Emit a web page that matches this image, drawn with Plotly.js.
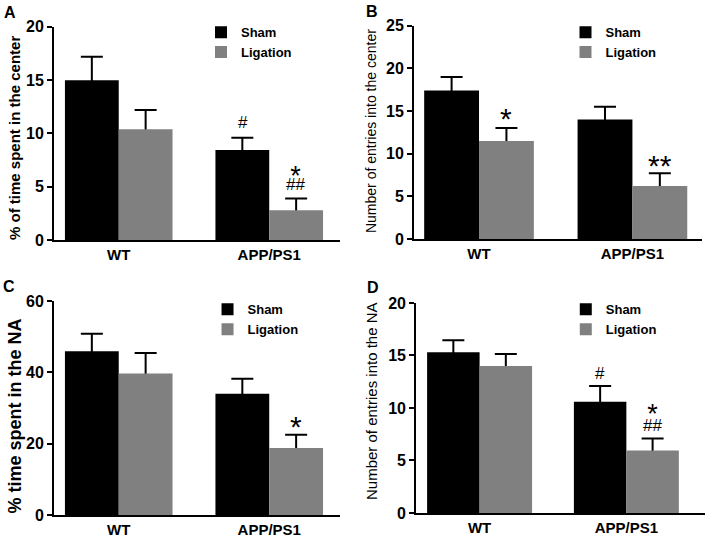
<!DOCTYPE html>
<html>
<head>
<meta charset="utf-8">
<script src="https://cdn.plot.ly/plotly-3.0.1.min.js"></script>
<style>
  body { margin: 0; padding: 0; background: #fff; }
  #plot { width: 709px; height: 537px; }
</style>
</head>
<body>
<div id="plot"></div>
<script>
// groups on the x axis
const groups = ['WT', 'APP/PS1'];

// A: % of time spent in the center
const shamTimeCenter = [15.0, 8.45];
const shamTimeCenterErr = [2.2, 1.15];
const ligTimeCenter = [10.4, 2.8];
const ligTimeCenterErr = [1.8, 1.1];

// B: number of entries into the center
const shamEntriesCenter = [17.4, 14.0];
const shamEntriesCenterErr = [1.6, 1.5];
const ligEntriesCenter = [11.5, 6.2];
const ligEntriesCenterErr = [1.5, 1.5];

// C: % time spent in the NA
const shamTimeNA = [45.9, 34.0];
const shamTimeNAErr = [4.9, 4.2];
const ligTimeNA = [39.7, 18.8];
const ligTimeNAErr = [5.7, 3.7];

// D: number of entries into the NA
const shamEntriesNA = [15.3, 10.6];
const shamEntriesNAErr = [1.15, 1.5];
const ligEntriesNA = [14.0, 5.95];
const ligEntriesNAErr = [1.15, 1.15];

const SHAM = '#000000';
const LIG = '#808080';
const FONT = 'Liberation Sans, Arial, sans-serif';

function sfx(n) { return n === 1 ? '' : String(n); }

// invisible bar carrying the error bar; the visible bar in the same
// offsetgroup is drawn over it, so only the upper half stays visible
function errTrace(y, err, group, n) {
  return {
    type: 'bar', x: groups, y: y, offsetgroup: group, showlegend: false,
    marker: { color: 'rgba(0,0,0,0)', line: { width: 0 } },
    error_y: { type: 'data', array: err, color: '#000', thickness: 2, width: 11 },
    xaxis: 'x' + sfx(n), yaxis: 'y' + sfx(n), hoverinfo: 'skip'
  };
}

function barTrace(y, name, color, group, n) {
  return {
    type: 'bar', x: groups, y: y, name: name, offsetgroup: group,
    marker: { color: color, line: { width: 0 } },
    xaxis: 'x' + sfx(n), yaxis: 'y' + sfx(n), legend: 'legend' + sfx(n),
    hoverinfo: 'skip'
  };
}

const data = [
  errTrace(shamTimeCenter, shamTimeCenterErr, 's', 1),
  errTrace(ligTimeCenter, ligTimeCenterErr, 'l', 1),
  barTrace(shamTimeCenter, 'Sham', SHAM, 's', 1),
  barTrace(ligTimeCenter, 'Ligation', LIG, 'l', 1),

  errTrace(shamEntriesCenter, shamEntriesCenterErr, 's', 2),
  errTrace(ligEntriesCenter, ligEntriesCenterErr, 'l', 2),
  barTrace(shamEntriesCenter, 'Sham', SHAM, 's', 2),
  barTrace(ligEntriesCenter, 'Ligation', LIG, 'l', 2),

  errTrace(shamTimeNA, shamTimeNAErr, 's', 3),
  errTrace(ligTimeNA, ligTimeNAErr, 'l', 3),
  barTrace(shamTimeNA, 'Sham', SHAM, 's', 3),
  barTrace(ligTimeNA, 'Ligation', LIG, 'l', 3),

  errTrace(shamEntriesNA, shamEntriesNAErr, 's', 4),
  errTrace(ligEntriesNA, ligEntriesNAErr, 'l', 4),
  barTrace(shamEntriesNA, 'Sham', SHAM, 's', 4),
  barTrace(ligEntriesNA, 'Ligation', LIG, 'l', 4)
];

function xAxis(domain, range, anchor) {
  return {
    domain: domain, anchor: anchor, type: 'category', range: range,
    showline: true, linewidth: 2, linecolor: '#000', ticks: '',
    showgrid: false, zeroline: false, fixedrange: true,
    tickfont: { family: FONT, size: 15, weight: 'bold', color: '#000' }
  };
}

function yAxis(domain, range, dtick, anchor) {
  return {
    domain: domain, anchor: anchor, range: range, dtick: dtick,
    showline: true, linewidth: 2, linecolor: '#000',
    ticks: 'outside', ticklen: 5, tickwidth: 2, tickcolor: '#000',
    showgrid: false, zeroline: false, fixedrange: true,
    tickfont: { family: FONT, size: 16, weight: 'bold', color: '#000' }
  };
}

function legendAt(x, y) {
  return {
    x: x, y: y, xanchor: 'left', yanchor: 'top',
    bgcolor: 'rgba(0,0,0,0)', tracegroupgap: 0, itemwidth: 30,
    font: { family: FONT, size: 13, weight: 'bold', color: '#000' }
  };
}

// stat marks above bars; x offset S = half a bar
function mark(n, xpos, ypos, text, shift, size) {
  return {
    xref: 'x' + sfx(n), yref: 'y' + sfx(n), x: xpos, y: ypos,
    text: text, showarrow: false, yanchor: 'middle', yshift: shift,
    font: { family: FONT, size: size, color: '#000' }
  };
}

// "*" stacked over "##" in one text; the small base size keeps the lines tight
function stackMark(n, xpos, ypos, shift, base) {
  return mark(n, xpos, ypos,
    '<span style="font-size:27px">*</span><br><span style="font-size:17px">##</span>',
    shift, base);
}

function yTitle(x, y, text, size, weight) {
  return {
    xref: 'paper', yref: 'paper', x: x, y: y, text: text, textangle: -90,
    showarrow: false, xanchor: 'center', yanchor: 'middle',
    font: { family: FONT, size: size, weight: weight, color: '#000' }
  };
}

function panelLabel(x, y, text) {
  return {
    xref: 'paper', yref: 'paper', x: x, y: y, text: text, showarrow: false,
    xanchor: 'center', yanchor: 'middle',
    font: { family: FONT, size: 16, weight: 'bold', color: '#000' }
  };
}

const S = 0.1775;

const layout = {
  width: 709, height: 537, autosize: false,
  margin: { l: 0, r: 0, t: 0, b: 0 },
  paper_bgcolor: '#fff', plot_bgcolor: '#fff',
  barmode: 'group', bargap: 0.285, bargroupgap: 0,
  font: { family: FONT, color: '#000' },
  xaxis: xAxis([0.0762, 0.4795], [-0.43, 1.47], 'y'),
  yaxis: yAxis([0.553, 0.950], [0, 20], 5, 'x'),
  xaxis2: xAxis([0.584, 0.990], [-0.4235, 1.453], 'y2'),
  yaxis2: yAxis([0.555, 0.952], [0, 25], 5, 'x2'),
  xaxis3: xAxis([0.0762, 0.4795], [-0.43, 1.47], 'y3'),
  yaxis3: yAxis([0.041, 0.4395], [0, 60], 20, 'x3'),
  xaxis4: xAxis([0.587, 0.994], [-0.432, 1.534], 'y4'),
  yaxis4: yAxis([0.0447, 0.4358], [0, 20], 5, 'x4'),
  legend: legendAt(0.2835, 0.968),
  legend2: legendAt(0.7976, 0.968),
  legend3: legendAt(0.2927, 0.452),
  legend4: legendAt(0.798, 0.452),
  annotations: [
    yTitle(0.0197, 0.743, '% of time spent in the center', 15, 'bold'),
    yTitle(0.5233, 0.756, 'Number of entries into the center', 14, 'normal'),
    yTitle(0.0212, 0.2244, '% time spent in the NA', 18, 'bold'),
    yTitle(0.524, 0.2523, 'Number of entries into the NA', 15, 'normal'),
    panelLabel(0.0141, 0.977, 'A'),
    panelLabel(0.5247, 0.9795, 'B'),
    panelLabel(0.012, 0.4665, 'C'),
    panelLabel(0.5254, 0.4655, 'D'),
    // A
    mark(1, 1 - S, 9.6, '#', 15, 17),
    stackMark(1, 1 + S, 3.9, 21, 4),
    // B
    mark(2, 0 + S, 13.0, '*', 10, 30),
    mark(2, 1 + S, 7.7, '**', 8, 30),
    // C
    mark(3, 1 + S, 22.5, '*', 8, 30),
    // D
    mark(4, 1 - S, 12.06, '#', 13, 17),
    stackMark(4, 1 + S, 7.08, 22, 6)
  ]
};

Plotly.newPlot('plot', data, layout, { staticPlot: true, displayModeBar: false });
</script>
</body>
</html>
